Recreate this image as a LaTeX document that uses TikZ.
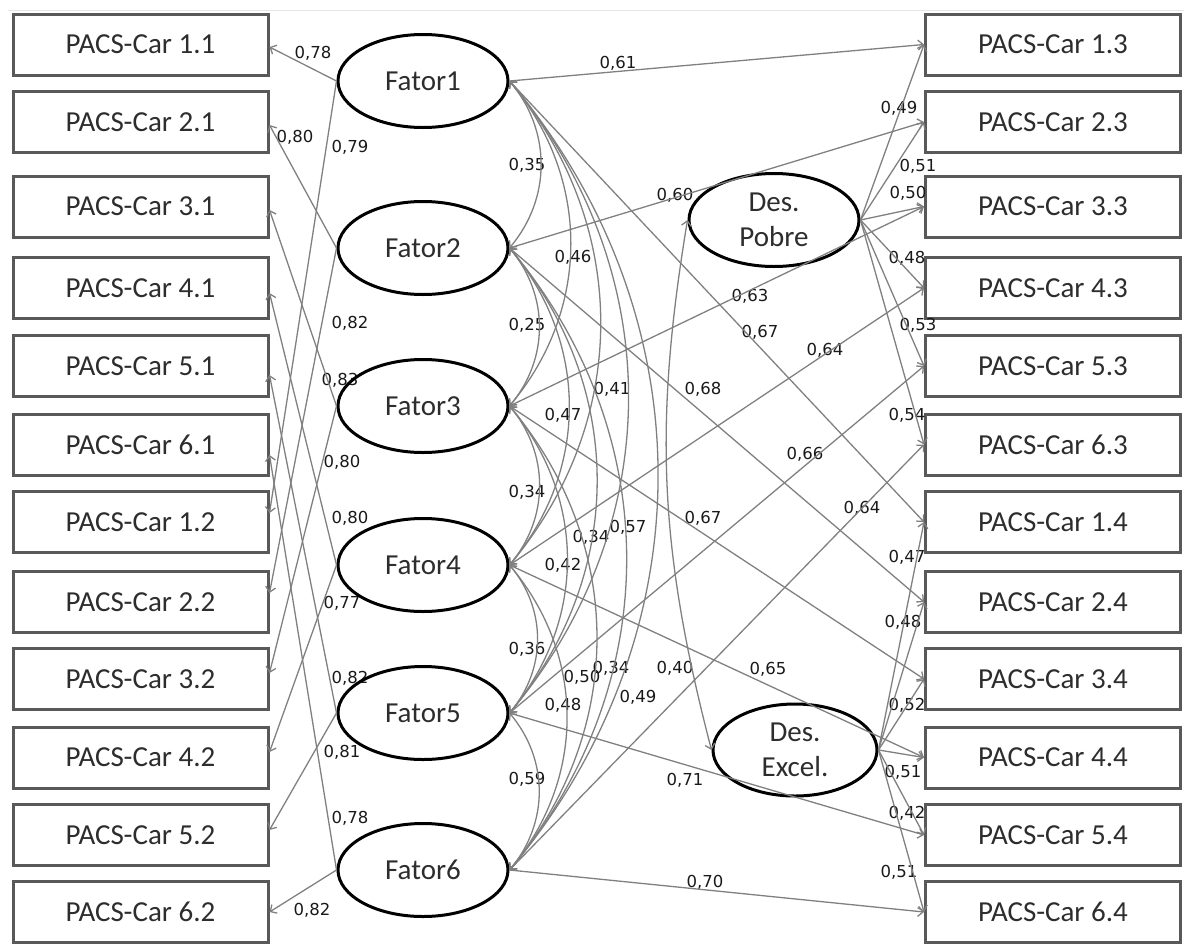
\documentclass[tikz,border=0pt]{standalone}
\usepackage{fontspec}
\usepackage{tikz}
\usetikzlibrary{shapes.geometric,arrows.meta}
\setmainfont{Carlito}
\newfontfamily\coeffont{DejaVu Sans}

\definecolor{boxgray}{RGB}{89,89,89}
\definecolor{arrowgray}{RGB}{128,128,128}
\definecolor{txtgray}{RGB}{45,45,45}

\tikzset{
  pacs/.style={draw=boxgray, line width=3pt, minimum width=255pt, minimum height=61pt,
    inner sep=0pt, text=txtgray, font=\fontsize{29}{29}\selectfont},
  fator/.style={ellipse, draw=black, line width=3pt, minimum width=170pt, minimum height=93pt,
    inner sep=0pt, align=center, text=txtgray, font=\fontsize{29}{35}\selectfont},
  load/.style={arrowgray, line width=1.3pt, ->},
  cov/.style={arrowgray, line width=1.3pt, <->},
  coef/.style={inner sep=0pt, text=black!90, font=\coeffont\fontsize{16.5}{18}\selectfont}
}

\begin{document}
\begin{tikzpicture}[x=1pt, y=-1pt, >={Straight Barb[length=5pt,width=10pt]}]
\useasboundingbox (0,0) rectangle (1184,943);
\draw[black!10] (8,10) -- (1184,10);

% items
\foreach \a/\b/\y in {1/1/44.5, 2/1/122, 3/1/206.5, 4/1/288, 5/1/366, 6/1/444.5,
                      1/2/522, 2/2/602, 3/2/679, 4/2/757.5, 5/2/835, 6/2/912}
  \node[pacs] (b\a\b) at (140.5,\y) {PACS-Car \a.\b};
\foreach \a/\b/\y in {1/3/44.5, 2/3/122, 3/3/206.5, 4/3/288, 5/3/366, 6/3/444.5,
                      1/4/522, 2/4/602, 3/4/679, 4/4/757.5, 5/4/835, 6/4/912}
  \node[pacs] (b\a\b) at (1053,\y) {PACS-Car \a.\b};

% coefficients
\foreach \x/\y/\v [count=\i] in {313/53/78, 295/137/80, 350/147/79, 350/323/82, 340/380/83,
    342/462/80, 350/518/80, 342/603/77, 350/678/82, 342/752/81, 350/818/78, 312/910/82,
    618/63/61, 527/165/35, 573/257/46, 675/195/60, 527/325/25, 612/389/41, 703/389/68,
    563/415/47, 527/492/34, 703/518/67, 628/527/57, 591/537/34, 563/565/42, 527/649/36,
    582/677/50, 611/668/34, 675/668/40, 563/705/48, 638/697/49, 527/779/59, 685/780/71,
    705/882/70, 750/296/63, 760/332/67, 825/350/64, 805/454/66, 862/508/64, 768/669/65,
    899/108/49, 918/166/51, 908/193/50, 907/258/48, 918/325/53, 907/415/54,
    907/557/47, 903/622/48, 907/705/52, 903/772/51, 907/813/42, 899/872/51}
  \node[coef] (c\i) at (\x,\y) {0,\v};

% latent variables
\foreach \i/\y in {1/81, 2/248, 3/406, 4/565, 5/713, 6/870}
  \node[fator] (f\i) at (423,\y) {Fator\i};
\node[fator] (pobre) at (774,220) {Des.\\Pobre};
\node[fator, minimum width=164pt, minimum height=92pt] (excel) at (795,750) {Des.\\Excel.};

\foreach \f/\b/\s in {1/11/-2.5, 1/12/9, 2/21/-3, 2/22/9, 3/31/-3.5, 3/32/6,
                      4/41/-5, 4/42/5.5, 5/51/-9, 5/52/5, 6/61/-10.5, 6/62/0}
  \draw[load] (f\f.west) -- ([yshift=\s pt]b\b.east);

\foreach \i in {1,...,6} {
  \draw[load] (f\i.east) -- (b\i3.west);
  \draw[load] (f\i.east) -- (b\i4.west);
  \draw[load] (pobre.east) -- (b\i3.west);
  \draw[load] (excel.east) -- (b\i4.west);
}

% correlations
\foreach \i in {1,...,5} {
  \pgfmathtruncatemacro\nxt{\i+1}
  \foreach \j in {\nxt,...,6}
    \draw[cov] (f\i.east) to[bend left=40] (f\j.east);
}
\draw[cov] (pobre.west) to[bend right=12] (excel.west);

\end{tikzpicture}
\end{document}
